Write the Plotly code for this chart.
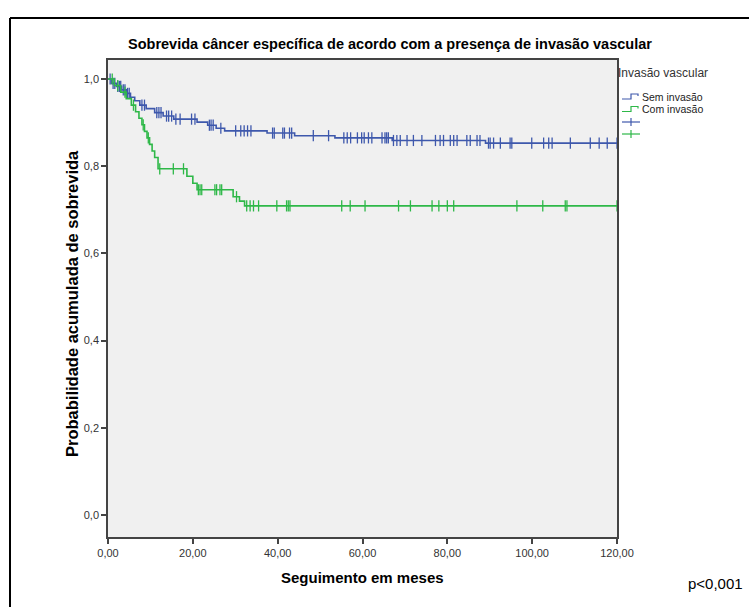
import numpy as np
import plotly.graph_objects as go

# Kaplan-Meier steps: event times (months) and cumulative survival after each event
sem_event_t = [0, 0.8, 2.0, 3.2, 4.3, 5.3, 6.3, 7.5, 9.0, 11.0, 13.0, 15.5, 21.0, 23.5,
               25.5, 27.5, 37.5, 44.0, 53.5, 67.0, 89.0]
sem_surv = [1.0, 0.99, 0.983, 0.975, 0.967, 0.958, 0.95, 0.94, 0.932, 0.923, 0.915, 0.908,
            0.901, 0.894, 0.887, 0.881, 0.876, 0.870, 0.865, 0.859, 0.853]
sem_censor_t = [0.5, 1.2, 1.6, 2.3, 2.7, 3.0, 3.6, 4.0, 4.6, 5.0, 8.0, 8.6, 11.5, 12.0, 12.5,
                13.8, 14.3, 15.0, 16.0, 17.0, 19.7, 20.5, 23.9, 24.3, 24.8, 26.6, 30.1, 31.3,
                32.1, 32.9, 33.7, 38.8, 39.2, 41.2, 41.6, 42.8, 43.3, 48.4, 52.0, 55.6, 56.4,
                57.2, 58.8, 59.8, 60.4, 61.4, 62.2, 64.6, 65.3, 65.7, 66.1, 67.3, 68.1, 68.9,
                70.5, 72.0, 74.0, 77.2, 78.3, 79.1, 80.7, 81.5, 82.3, 84.6, 85.4, 87.0, 87.7,
                89.7, 90.1, 90.9, 92.5, 94.8, 95.2, 99.9, 102.7, 103.9, 104.7, 109.0, 113.7,
                115.8, 117.7, 120.0]

com_event_t = [0, 1.5, 3.0, 4.3, 5.5, 6.5, 7.3, 8.0, 8.6, 9.2, 9.8, 10.4, 11.0, 11.8,
               18.6, 20.0, 21.0, 29.5, 31.0, 32.2]
com_surv = [1.0, 0.985, 0.97, 0.955, 0.94, 0.925, 0.91, 0.895, 0.88, 0.865, 0.85, 0.835,
            0.82, 0.794, 0.777, 0.761, 0.746, 0.73, 0.72, 0.709]
com_censor_t = [1.0, 2.3, 4.0, 6.0, 8.3, 9.5, 12.2, 15.4, 17.8, 21.3, 21.7, 22.1, 25.2, 25.6,
                26.4, 26.8, 30.3, 32.7, 33.5, 34.3, 35.5, 39.8, 42.1, 42.5, 42.9, 55.1, 57.1,
                60.6, 68.5, 71.3, 76.4, 78.0, 80.0, 81.5, 96.4, 102.5, 107.8, 108.2, 120.0]

follow_up_end = 120.0

x_tickvals = [0, 20, 40, 60, 80, 100, 120]
x_ticktext = ["0,00", "20,00", "40,00", "60,00", "80,00", "100,00", "120,00"]
y_tickvals = [0.0, 0.2, 0.4, 0.6, 0.8, 1.0]
y_ticktext = ["0,0", "0,2", "0,4", "0,6", "0,8", "1,0"]

group_names = ["Sem invasão", "Com invasão"]
legend_title = "Invasão vascular"
chart_title = "Sobrevida câncer específica de acordo com a presença de invasão vascular"
x_title = "Seguimento em meses"
y_title = "Probabilidade acumulada de sobrevida"
p_text = "p<0,001"

BLUE = "#3E58AC"
GREEN = "#2EB848"
FONT = "Arial, Liberation Sans, sans-serif"

W, H = 749, 607
L, R, T, B = 108, 617, 60, 537  # plot area in pixels


def px(x):
    return (x - L) / (R - L)


def py(y):
    return (B - y) / (B - T)


def step_value(t_events, surv, t):
    idx = np.searchsorted(np.asarray(t_events), np.asarray(t), side="right") - 1
    return np.asarray(surv)[idx]


fig = go.Figure()
for t_ev, s_ev, t_c, color in [
    (sem_event_t, sem_surv, sem_censor_t, BLUE),
    (com_event_t, com_surv, com_censor_t, GREEN),
]:
    xs = list(t_ev) + [follow_up_end]
    ys = list(s_ev) + [s_ev[-1]]
    fig.add_trace(go.Scatter(x=xs, y=ys, mode="lines", line=dict(color=color, width=1.6, shape="hv"),
                             showlegend=False, hoverinfo="skip"))
    fig.add_trace(go.Scatter(x=t_c, y=step_value(t_ev, s_ev, t_c), mode="markers",
                             marker=dict(symbol="line-ns", size=8, line=dict(color=color, width=1.3)),
                             showlegend=False, hoverinfo="skip"))

shapes = []
# outer frame: only its top and left edges fall inside the page
shapes.append(dict(type="line", xref="paper", yref="paper", x0=px(10), x1=px(760), y0=py(18), y1=py(18),
                   line=dict(color="black", width=2)))
shapes.append(dict(type="line", xref="paper", yref="paper", x0=px(10), x1=px(10), y0=py(18), y1=py(620),
                   line=dict(color="black", width=2)))

annotations = [
    dict(text=f"<b>{chart_title}</b>", x=px(390), y=py(44), xref="paper", yref="paper",
         showarrow=False, font=dict(family=FONT, size=14.5, color="black"), xanchor="center", yanchor="middle"),
    dict(text=f"<b>{x_title}</b>", x=px(362), y=py(577), xref="paper", yref="paper",
         showarrow=False, font=dict(family=FONT, size=15, color="black"), xanchor="center", yanchor="middle"),
    dict(text=f"<b>{y_title}</b>", x=px(72), y=py(304), xref="paper", yref="paper", textangle=-90,
         showarrow=False, font=dict(family=FONT, size=16.5, color="black"), xanchor="center", yanchor="middle"),
    dict(text=p_text, x=px(745), y=py(583), xref="paper", yref="paper",
         showarrow=False, font=dict(family=FONT, size=15, color="black"), xanchor="right", yanchor="middle"),
    dict(text=legend_title, x=px(616), y=py(73), xref="paper", yref="paper",
         showarrow=False, font=dict(family=FONT, size=12, color="#333"), xanchor="left", yanchor="middle"),
]

# legend: step glyphs for the curves, plus glyphs for censored cases
gx0, gx1 = 622, 640
for i, (name, color) in enumerate(zip(group_names, [BLUE, GREEN])):
    yc = 97 + 12.5 * i
    gm = (gx0 + gx1) / 2
    path = (f"M {px(gx0)},{py(yc + 2)} L {px(gm)},{py(yc + 2)} L {px(gm)},{py(yc - 3)} "
            f"L {px(gx1 - 2)},{py(yc - 3)} L {px(gx1 - 2)},{py(yc - 1)}")
    shapes.append(dict(type="path", xref="paper", yref="paper", path=path,
                       line=dict(color=color, width=1.2)))
    annotations.append(dict(text=name, x=px(gx1), y=py(yc), xref="paper", yref="paper", showarrow=False,
                            font=dict(family=FONT, size=10.5, color="#222"), xanchor="left", yanchor="middle"))
for i, color in enumerate([BLUE, GREEN]):
    yc = 122 + 12 * i
    gm = (gx0 + gx1) / 2
    shapes.append(dict(type="line", xref="paper", yref="paper", x0=px(gx0), x1=px(gx1), y0=py(yc), y1=py(yc),
                       line=dict(color=color, width=1.2)))
    shapes.append(dict(type="line", xref="paper", yref="paper", x0=px(gm), x1=px(gm), y0=py(yc - 4), y1=py(yc + 4),
                       line=dict(color=color, width=1.2)))

axis_common = dict(showline=True, mirror=True, linecolor="#444", linewidth=1.6, ticks="outside",
                   ticklen=5, tickwidth=1.5, tickcolor="#444", showgrid=False, zeroline=False,
                   tickfont=dict(family=FONT, size=11, color="#333"))

fig.update_layout(
    width=W, height=H,
    margin=dict(l=L, r=W - R, t=T, b=H - B),
    paper_bgcolor="white", plot_bgcolor="#F0F0F0",
    xaxis=dict(range=[0, 120], tickvals=x_tickvals, ticktext=x_ticktext, **axis_common),
    yaxis=dict(range=[-0.0505, 1.0436], tickvals=y_tickvals, ticktext=y_ticktext, **axis_common),
    shapes=shapes, annotations=annotations, showlegend=False,
)

fig.write_html("out.html")
